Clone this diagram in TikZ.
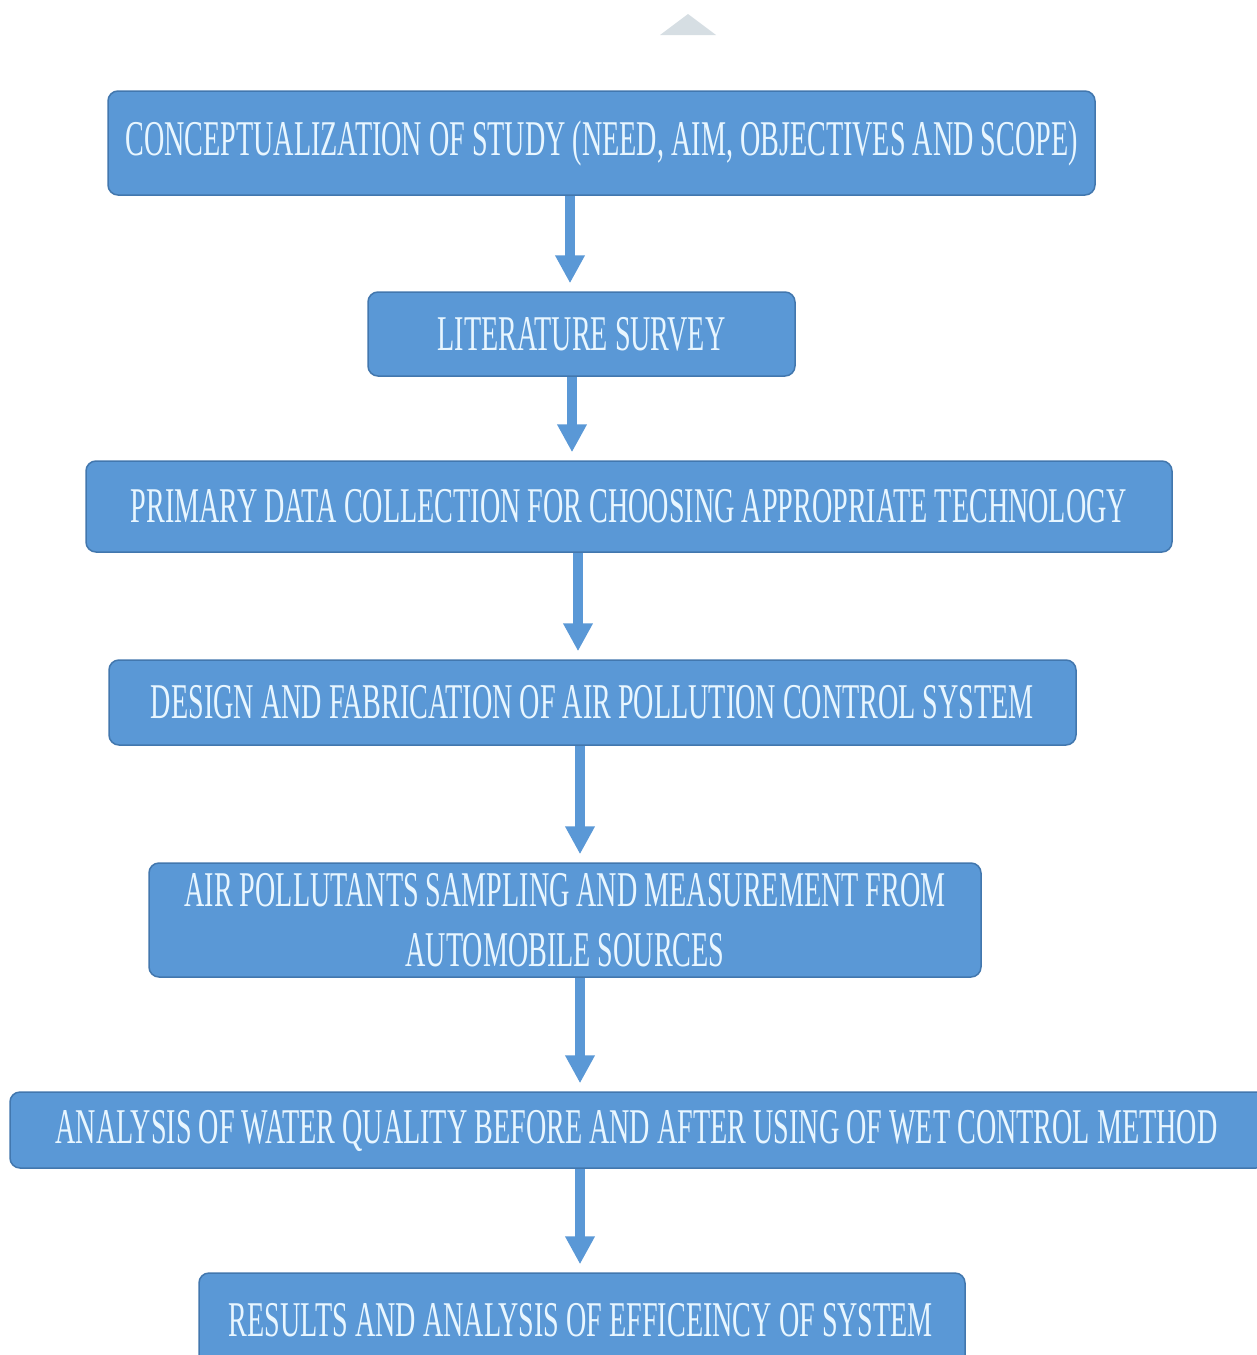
\documentclass[tikz,border=0pt]{standalone}
\usepackage{fontspec}
\setmainfont{Liberation Serif}[FakeStretch=0.5625]
\usetikzlibrary{arrows.meta}
\definecolor{boxfill}{HTML}{5A98D6}
\definecolor{boxline}{HTML}{4277AE}
\definecolor{boxtext}{HTML}{E8F6FF}
\definecolor{tri}{HTML}{D6DEE3}
\tikzset{
  stepbox/.style={draw=boxline, line width=1.5pt, fill=boxfill, rounded corners=10pt,
    text=boxtext, font=\fontsize{50}{60}\selectfont, align=center, inner sep=0pt},
  flow/.style={draw=boxfill, line width=10pt,
    -{Triangle[width=28pt,length=28pt]}, shorten >=8pt}
}
\begin{document}
\begin{tikzpicture}[x=1pt,y=-1pt]
\useasboundingbox (0,0) rectangle (1257,1355);
\fill[tri] (660,35) -- (688,14) -- (716,35) -- cycle;
\node[stepbox, minimum width=987pt, minimum height=104pt] (b1) at (601.5,143) {CONCEPTUALIZATION OF STUDY (NEED, AIM, OBJECTIVES AND SCOPE)};
\node[stepbox, minimum width=427pt, minimum height=84pt] (b2) at (581.5,334) {LITERATURE SURVEY};
\node[stepbox, minimum width=1086pt, minimum height=91pt] (b3) at (629,506.5) {PRIMARY DATA COLLECTION FOR CHOOSING APPROPRIATE TECHNOLOGY};
\node[stepbox, minimum width=967pt, minimum height=85pt] (b4) at (592.5,702.5) {DESIGN AND FABRICATION OF AIR POLLUTION CONTROL SYSTEM};
\node[stepbox, minimum width=832pt, minimum height=114pt] (b5) at (565,920) {AIR POLLUTANTS SAMPLING AND MEASUREMENT FROM\\AUTOMOBILE SOURCES};
\node[stepbox, minimum width=1256pt, minimum height=76pt] (b6) at (638,1130) {};
\node[text=boxtext, font=\fontsize{50}{60}\selectfont, inner sep=0pt] (t6) at (636.5,1131) {ANALYSIS OF WATER QUALITY BEFORE AND AFTER USING OF WET CONTROL METHOD};
\node[stepbox, minimum width=766pt, minimum height=110pt] (b7) at (582,1328) {};
\node[text=boxtext, font=\fontsize{50}{60}\selectfont, inner sep=0pt] (t7) at (581,1320) {RESULTS AND ANALYSIS OF EFFICEINCY OF SYSTEM};
\coordinate (c1) at (570,0);
\coordinate (c2) at (572,0);
\coordinate (c3) at (578,0);
\coordinate (c4) at (580,0);
\draw[flow] (b1.south -| c1) -- (b2.north -| c1);
\draw[flow] (b2.south -| c2) -- (b3.north -| c2);
\draw[flow] (b3.south -| c3) -- (b4.north -| c3);
\draw[flow] (b4.south -| c4) -- (b5.north -| c4);
\draw[flow] (b5.south -| c4) -- (b6.north -| c4);
\draw[flow] (b6.south -| c4) -- (b7.north -| c4);
\end{tikzpicture}
\end{document}
